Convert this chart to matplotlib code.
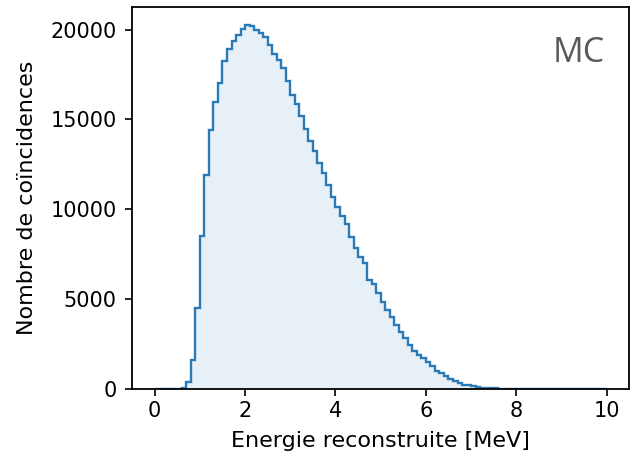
import numpy as np
import matplotlib
matplotlib.use("Agg")
import matplotlib.pyplot as plt

# bin edges 0..10 MeV, 0.1 MeV wide
edges = np.round(np.arange(0, 10.01, 0.1), 2)

# counts per bin
counts = [
    0, 0, 0, 0, 0, 5, 40, 380, 1600, 4500,
    8520, 11920, 14430, 15970, 17030, 18270, 18940, 19350, 19720, 20060,
    20250, 20220, 20000, 19800, 19570, 19160, 18650, 18330, 17870, 17160,
    16380, 15860, 15170, 14450, 13780, 13220, 12570, 12020, 11360, 10710,
    10120, 9600, 9190, 8480, 7840, 7370, 7000, 6070, 5850, 5330,
    4860, 4400, 3990, 3570, 3190, 2820, 2450, 2130, 1880, 1710,
    1520, 1280, 1020, 910, 720, 560, 430, 340, 250, 195,
    150, 110, 80, 60, 45, 30, 20, 12, 7, 4,
    2, 0, 0, 0, 0, 0, 0, 0, 0, 0,
    0, 0, 0, 0, 0, 0, 0, 0, 0, 0,
]

xlabel = "Energie reconstruite [MeV]"
ylabel = "Nombre de coïncidences"
tag = "MC"

fig = plt.figure(figsize=(6.35, 4.62), dpi=100)
ax = fig.add_axes([0.208, 0.158, 0.783, 0.827])

centers = edges[:-1] + 0.05
ax.hist(centers, bins=edges, weights=counts, histtype="stepfilled",
        color="#1f77b4", alpha=0.11)
ax.hist(centers, bins=edges, weights=counts, histtype="step",
        color="#2a7ab8", linewidth=1.7)

ax.set_xticks([0, 2, 4, 6, 8, 10])
ax.set_yticks([0, 5000, 10000, 15000, 20000])
ax.tick_params(labelsize=15, length=5, width=1.2)
ax.tick_params(axis="y", pad=6)
for s in ax.spines.values():
    s.set_linewidth(1.3)
ax.set_xlabel(xlabel, fontsize=16, labelpad=7)
ax.set_ylabel(ylabel, fontsize=16, labelpad=10)

ax.text(0.95, 0.925, tag, transform=ax.transAxes, ha="right", va="top",
        fontsize=24.5, color="#595959", family="Open Sans")

fig.savefig("out.png", dpi=100)
